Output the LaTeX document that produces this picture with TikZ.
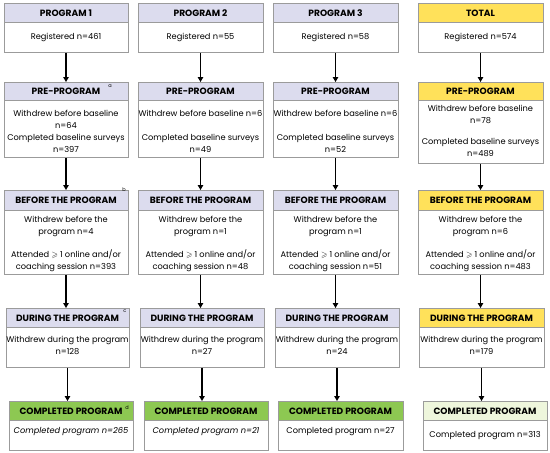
\documentclass[tikz,border=0pt]{standalone}
\usepackage{amssymb}
\usepackage{fontspec}
\setmainfont{Poppins}
\usetikzlibrary{arrows.meta}
\definecolor{lav}{HTML}{DCDCEE}
\definecolor{yel}{HTML}{FFE15A}
\definecolor{grn}{HTML}{8DC852}
\definecolor{pgrn}{HTML}{EEF6DC}
\definecolor{bord}{HTML}{9B9B9B}
\tikzset{
  hdr/.style={draw=bord, line width=0.8pt, anchor=north, inner sep=0pt,
    font=\fontsize{9.1}{10}\selectfont\bfseries},
  bodyr/.style={draw=bord, line width=0.8pt, anchor=north, inner sep=0pt, fill=white},
  txt/.style={anchor=north, inner sep=0pt, align=center,
    font=\fontsize{8.25}{12}\selectfont},
  sup/.style={inner sep=0pt, font=\fontsize{5}{6}\selectfont},
  arr/.style={line width=1.4pt, -{Triangle[length=5pt,width=5.5pt]}}
}
\newcommand\fbx[8]{%
  \node[hdr, fill=#7, minimum width={(#3-#2)*1pt}, minimum height={(#5-#4)*1pt}] (#1h) at ({(#2+#3)/2},#4) {#8};
  \node[bodyr, minimum width={(#3-#2)*1pt}, minimum height={(#6-#5)*1pt}] (#1b) at ({(#2+#3)/2},#5) {};
}
\begin{document}
\begin{tikzpicture}[x=1pt,y=-1pt]
\useasboundingbox[fill=white] (0,0) rectangle (550,453);
% Row 1
\fbx{a1}{4}{128}{3}{22}{52}{lav}{PROGRAM 1}
\fbx{b1}{138}{263}{3}{22}{52}{lav}{PROGRAM 2}
\fbx{c1}{273}{398}{3}{22}{52}{lav}{PROGRAM 3}
\fbx{d1}{418}{543}{3}{22}{52}{yel}{TOTAL}
% Row 2
\fbx{a2}{4}{128}{82}{100}{157}{lav}{PRE-PROGRAM}
\fbx{b2}{138}{263}{82}{100}{157}{lav}{PRE-PROGRAM}
\fbx{c2}{273}{398}{82}{100}{157}{lav}{PRE-PROGRAM}
\fbx{d2}{418}{543}{82}{100}{163}{yel}{PRE-PROGRAM}
% Row 3
\fbx{a3}{4}{128}{190}{210}{274}{lav}{BEFORE THE PROGRAM}
\fbx{b3}{138}{263}{190}{210}{274}{lav}{BEFORE THE PROGRAM}
\fbx{c3}{273}{398}{190}{210}{274}{lav}{BEFORE THE PROGRAM}
\fbx{d3}{418}{543}{190}{210}{274}{yel}{BEFORE THE PROGRAM}
% Row 4
\fbx{a4}{6}{129}{308}{327}{367}{lav}{DURING THE PROGRAM}
\fbx{b4}{140}{264}{308}{327}{367}{lav}{DURING THE PROGRAM}
\fbx{c4}{275}{399}{308}{327}{367}{lav}{DURING THE PROGRAM}
\fbx{d4}{419}{544}{308}{327}{367}{yel}{DURING THE PROGRAM}
% Row 5
\fbx{a5}{9}{133}{401}{420}{450}{grn}{COMPLETED PROGRAM}
\fbx{b5}{144}{268}{401}{420}{450}{grn}{COMPLETED PROGRAM}
\fbx{c5}{278}{403}{401}{420}{450}{grn}{COMPLETED PROGRAM}
\fbx{d5}{423}{547}{401}{420}{450}{pgrn}{COMPLETED PROGRAM}
% superscripts
\node[sup] (supa) at (110,86) {a};
\node[sup] (supb) at (124,190) {b};
\node[sup] (supc) at (125,311) {c};
\node[sup] (supd) at (127,408) {d};
% texts row 1
\node[txt, anchor=center] (a1t) at (66,37) {Registered n=461};
\node[txt, anchor=center] (b1t) at (200.5,37) {Registered n=55};
\node[txt, anchor=center] (c1t) at (335.5,37) {Registered n=58};
\node[txt, anchor=center] (d1t) at (480.5,37) {Registered n=574};
% row 2
\node[txt] (a2t) at (66,110) {Withdrew before baseline\\n=64\\Completed baseline surveys\\n=397};
\node[txt] (b2t) at (200.5,110) {Withdrew before baseline n=6\\[12pt]Completed baseline surveys\\n=49};
\node[txt] (c2t) at (335.5,110) {Withdrew before baseline n=6\\[12pt]Completed baseline surveys\\n=52};
\node[txt] (d2t) at (480.5,105) {Withdrew before baseline\\n=78\\[9pt]Completed baseline surveys\\n=489};
% row 3
\node[txt] (a3t) at (66,216) {Withdrew before the\\program n=4\\[11pt]Attended $\geqslant$ 1 online and/or\\coaching session n=393};
\node[txt] (b3t) at (200.5,216) {Withdrew before the\\program n=1\\[11pt]Attended $\geqslant$ 1 online and/or\\coaching session n=48};
\node[txt] (c3t) at (335.5,216) {Withdrew before the\\program n=1\\[11pt]Attended $\geqslant$ 1 online and/or\\coaching session n=51};
\node[txt] (d3t) at (480.5,216) {Withdrew before the\\program n=6\\[11pt]Attended $\geqslant$ 1 online and/or\\coaching session n=483};
% row 4
\node[txt, font=\fontsize{8.25}{11.5}\selectfont] (a4t) at (67.5,336.5) {Withdrew during the program\\n=128};
\node[txt, font=\fontsize{8.25}{11.5}\selectfont] (b4t) at (202,336.5) {Withdrew during the program\\n=27};
\node[txt, font=\fontsize{8.25}{11.5}\selectfont] (c4t) at (337,336.5) {Withdrew during the program\\n=24};
\node[txt, font=\fontsize{8.25}{11.5}\selectfont] (d4t) at (481.5,336.5) {Withdrew during the program\\n=179};
% row 5
\node[txt, anchor=center] (a5t) at (71,432) {\itshape Completed program n=265};
\node[txt, anchor=center] (b5t) at (206,432) {\itshape Completed program n=21};
\node[txt, anchor=center] (c5t) at (340.5,432) {Completed program n=27};
\node[txt, anchor=center] (d5t) at (485,435.5) {Completed program n=313};
% arrows
\foreach \c in {a,b,c,d}{
  \draw[arr] (\c1b.south) -- (\c1b.south |- \c2h.north);
  \draw[arr] (\c2b.south) -- (\c2b.south |- \c3h.north);
  \draw[arr] (\c3b.south) -- (\c3b.south |- \c4h.north);
  \draw[arr] (\c4b.south) -- (\c4b.south |- \c5h.north);
}
\end{tikzpicture}
\end{document}
